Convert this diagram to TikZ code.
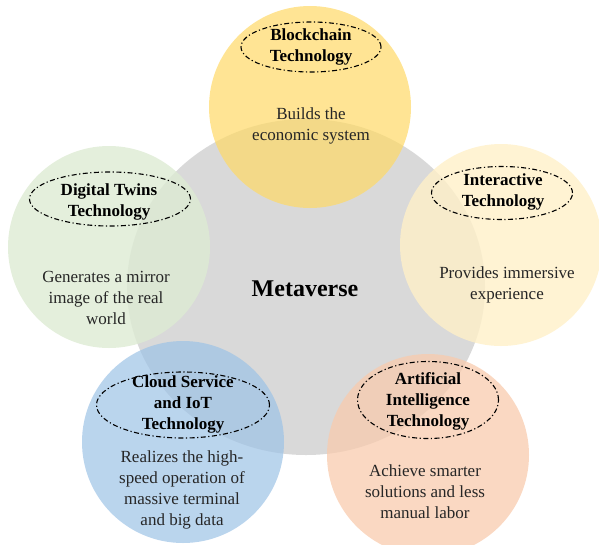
\documentclass[tikz,border=0pt]{standalone}
\usepackage{fontspec}
\setmainfont{Liberation Serif}
\usetikzlibrary{shapes.geometric}
\definecolor{hubgray}{HTML}{D9D9D9}
\definecolor{cyellow}{HTML}{FFD966}
\definecolor{cgreen}{HTML}{DDEBD3}
\definecolor{ccream}{HTML}{FFF0C8}
\definecolor{cblue}{HTML}{9DC3E6}
\definecolor{cpeach}{HTML}{F8CBAD}
\definecolor{bodytext}{HTML}{262626}
\tikzset{
  bubble/.style={circle, minimum size=202pt, inner sep=0pt, draw=none, fill opacity=#1},
  bubble/.default=0.75,
  ring/.style={ellipse, draw=black, line width=1.1pt, dash pattern=on 5pt off 2.5pt on 1.2pt off 2.5pt, inner sep=0pt},
  titletext/.style={align=center, font=\fontsize{17}{21}\selectfont\bfseries, text=black},
  bodytxt/.style={align=center, font=\fontsize{17}{21}\selectfont, text=bodytext},
}
\begin{document}
\begin{tikzpicture}[x=1pt,y=-1pt]
\useasboundingbox (0,0) rectangle (599,544);
% central hub
\node[ellipse, fill=hubgray, minimum width=358pt, minimum height=336pt, inner sep=0pt] (hub) at (306,287) {};
% bubbles
\node[bubble=0.7, fill=cyellow] (bc) at (310,107) {};
\node[bubble=0.8, fill=cgreen] (dt) at (109,247) {};
\node[bubble=0.8, fill=ccream] (ia) at (501,245) {};
\node[bubble=0.7, fill=cblue] (cs) at (183,442) {};
\node[bubble=0.75, fill=cpeach] (ai) at (428,455) {};
% dash-dot rings
\node[ring, minimum width=140pt, minimum height=50pt] (bcr) at (311,47) {};
\node[ring, minimum width=161pt, minimum height=54pt] (dtr) at (110,199) {};
\node[ring, minimum width=141pt, minimum height=53pt] (iar) at (502,193) {};
\node[ring, minimum width=173pt, minimum height=66pt] (csr) at (183,405) {};
\node[ring, minimum width=141pt, minimum height=77pt] (air) at (428,400) {};
% titles
\node[titletext] (bct) at (311,47) {Blockchain\\Technology};
\node[titletext] (dtt) at (109,202) {Digital Twins\\Technology};
\node[titletext] (iat) at (503,192) {Interactive\\Technology};
\node[titletext] (cst) at (183,404) {Cloud Service\\and IoT\\Technology};
\node[titletext] (ait) at (428,401) {Artificial\\Intelligence\\Technology};
% descriptions
\node[bodytxt] (bcd) at (311,126) {Builds the\\economic system};
\node[bodytxt] (dtd) at (106,298) {Generates a mirror\\image of the real\\world};
\node[bodytxt] (iad) at (507,285) {Provides immersive\\experience};
\node[bodytxt] (csd) at (182,490) {Realizes the high-\\speed operation of\\massive terminal\\and big data};
\node[bodytxt] (aid) at (425,492) {Achieve smarter\\solutions and less\\manual labor};
% hub label
\node[font=\fontsize{24}{28}\selectfont\bfseries, text=black] (meta) at (305,289) {Metaverse};
\end{tikzpicture}
\end{document}
